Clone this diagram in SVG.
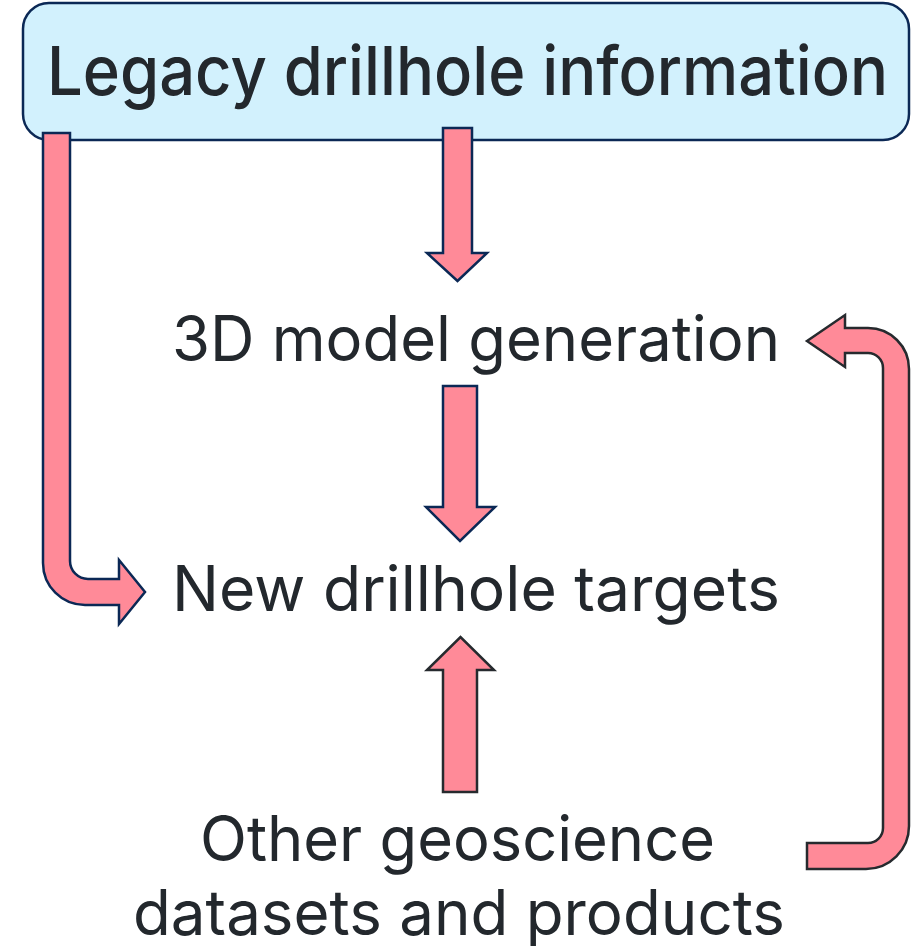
<svg xmlns="http://www.w3.org/2000/svg" width="921" height="946" viewBox="0 0 921 946">
  <style>
    .label { font-family: Inter, "Open Sans", "Liberation Sans", sans-serif; fill: #23282d; }
    .plain { font-size: 63px; font-weight: 400; }
    .title { font-size: 68px; font-weight: 500; }
    .arrow { fill: #ff8a98; stroke-width: 2.5; stroke-linejoin: miter; }
    .navy { stroke: #0b2855; }
    .grey { stroke: #262a2e; }
  </style>
  <rect width="921" height="946" fill="#ffffff"/>

  <g id="legacy">
    <rect x="23" y="3" width="886" height="137" rx="26" ry="26" fill="#d2f1fd" stroke="#0b2855" stroke-width="2.5"/>
    <text class="label title" x="47" y="95" textLength="841" lengthAdjust="spacingAndGlyphs">Legacy drillhole information</text>
  </g>

  <g id="model">
    <text class="label plain" x="172" y="361" textLength="608" lengthAdjust="spacingAndGlyphs">3D model generation</text>
  </g>

  <g id="targets">
    <text class="label plain" x="172" y="611" textLength="608" lengthAdjust="spacingAndGlyphs">New drillhole targets</text>
  </g>

  <g id="datasets">
    <text class="label plain" x="200" y="861" textLength="515" lengthAdjust="spacingAndGlyphs">Other geoscience</text>
    <text class="label plain" x="133" y="935" textLength="652" lengthAdjust="spacingAndGlyphs">datasets and products</text>
  </g>

  <g id="connectors">
    <!-- legacy -> targets (bent arrow on the left) -->
    <path class="arrow navy" d="M43,133 L43,563 A42,42 0 0 0 85,605 L119,605 L119,624 L145,592 L119,560 L119,579 L88,579 A18,18 0 0 1 70,561 L70,133 Z"/>
    <!-- legacy -> model -->
    <path class="arrow navy" d="M443,128 L472,128 L472,253 L487,253 L457.5,281 L427,253 L443,253 Z"/>
    <!-- model -> targets -->
    <path class="arrow navy" d="M443,386 L477,386 L477,507 L495,507 L460,541 L426,507 L443,507 Z"/>
    <!-- datasets -> targets -->
    <path class="arrow grey" d="M443,792 L477,792 L477,670 L494,670 L460.5,637 L427,670 L443,670 Z"/>
    <!-- datasets -> model (loop on the right) -->
    <path class="arrow grey" d="M807,341 L845,315 L845,328 L868,328 A41,41 0 0 1 909,369 L909,826 A43,43 0 0 1 866,869 L807,869 L807,843 L868,843 A15,15 0 0 0 883,828 L883,368 A15,15 0 0 0 868,353 L845,353 L845,367 Z"/>
  </g>
</svg>
